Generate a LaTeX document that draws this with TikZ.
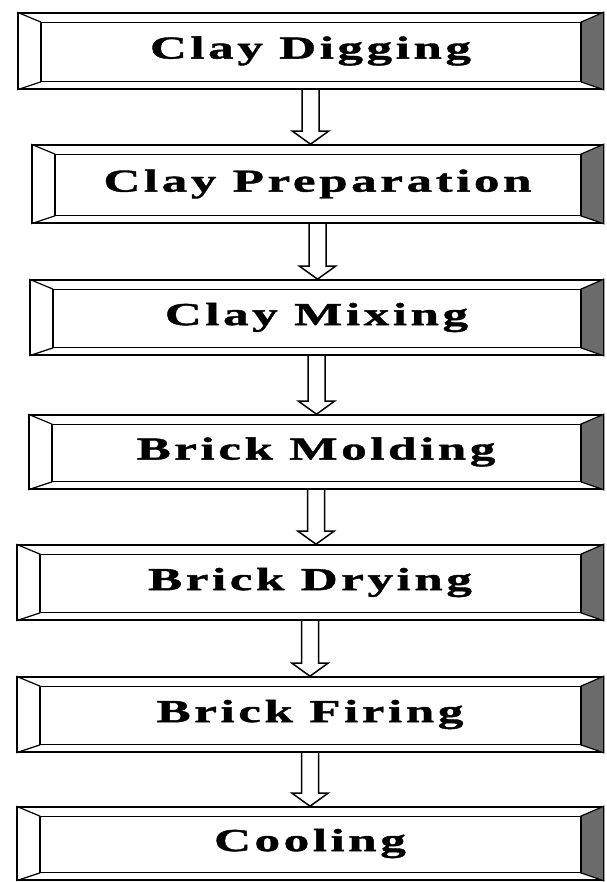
\documentclass[tikz,border=0pt]{standalone}
\usepackage{fontspec}
\setmainfont{Liberation Serif}
\newfontfamily\stagefont{Liberation Serif}[FakeStretch=1.6, LetterSpace=11, FakeBold=1.2]
\usetikzlibrary{calc, fit}
\tikzset{
  stage/.style={
    rectangle,
    inner sep=0pt,
    draw=black,
    line width=1.6pt
  },
  stage text/.style={font={\stagefont\bfseries\fontsize{32pt}{32pt}\selectfont}, inner sep=0pt},
  bevel/.style={black, line width=1.2pt},
  bevel edge/.style={black, line width=2pt},
  shade bevel/.style={fill=black!58, draw=black, line width=1.2pt},
  flow/.style={
    draw=black, line width=1.5pt, line join=miter,
    to path={let \p1=(\tikztostart), \p2=(\tikztotarget) in
      (\x1-8.5pt,\y1) -- (\x1-8.5pt,\y2+13pt) -- (\x1-18pt,\y2+13pt) -- (\x1,\y2)
      -- (\x1+18pt,\y2+13pt) -- (\x1+8.5pt,\y2+13pt) -- (\x1+8.5pt,\y1)}
  }
}

\begin{document}
\begin{tikzpicture}[x=1pt, y=-1pt]
  \useasboundingbox (0,0) rectangle (606,882);

  % ====== STAGES ======
  \foreach \name/\lft/\tp/\bt/\txt in {
      dig/18/13/89/Clay Digging,
      prep/32/145/223/Clay Preparation,
      mix/30/280/355/Clay Mixing,
      mold/29/415/489/Brick Molding,
      dry/17/545/620/Brick Drying,
      fire/17/677/752/Brick Firing,
      cool/17/807/880/Cooling}{
    \coordinate (\name-nw) at (\lft,\tp);
    \coordinate (\name-se) at (603,\bt);
    \node[stage, fit=(\name-nw)(\name-se)] (\name) {};
    \node[stage text] (\name-txt) at (\name.center) {\txt};
    % bevel corners
    \path (\name.north west) ++(24,10) coordinate (\name-inw)
          (\name.south west) ++(24,-8) coordinate (\name-isw)
          (\name.north east) ++(-23,10) coordinate (\name-ine)
          (\name.south east) ++(-23,-8) coordinate (\name-ise);
    \filldraw[shade bevel] (\name-ine) -- (\name.north east) -- (\name.south east) -- (\name-ise) -- cycle;
    \draw[bevel] (\name.north west) -- (\name-inw) (\name-isw) -- (\name.south west);
    \draw[bevel] (\name-inw) -- (\name-ine) (\name-isw) -- (\name-ise);
    \draw[bevel edge] (\name-inw) -- (\name-isw) (\name-ine) -- (\name-ise);
  }

  % ====== ARROWS ======
  \foreach \a/\b in {dig/prep, prep/mix, mix/mold, mold/dry, dry/fire, fire/cool}
    \draw[flow] (\a.south) to (\b.north);

\end{tikzpicture}
\end{document}
